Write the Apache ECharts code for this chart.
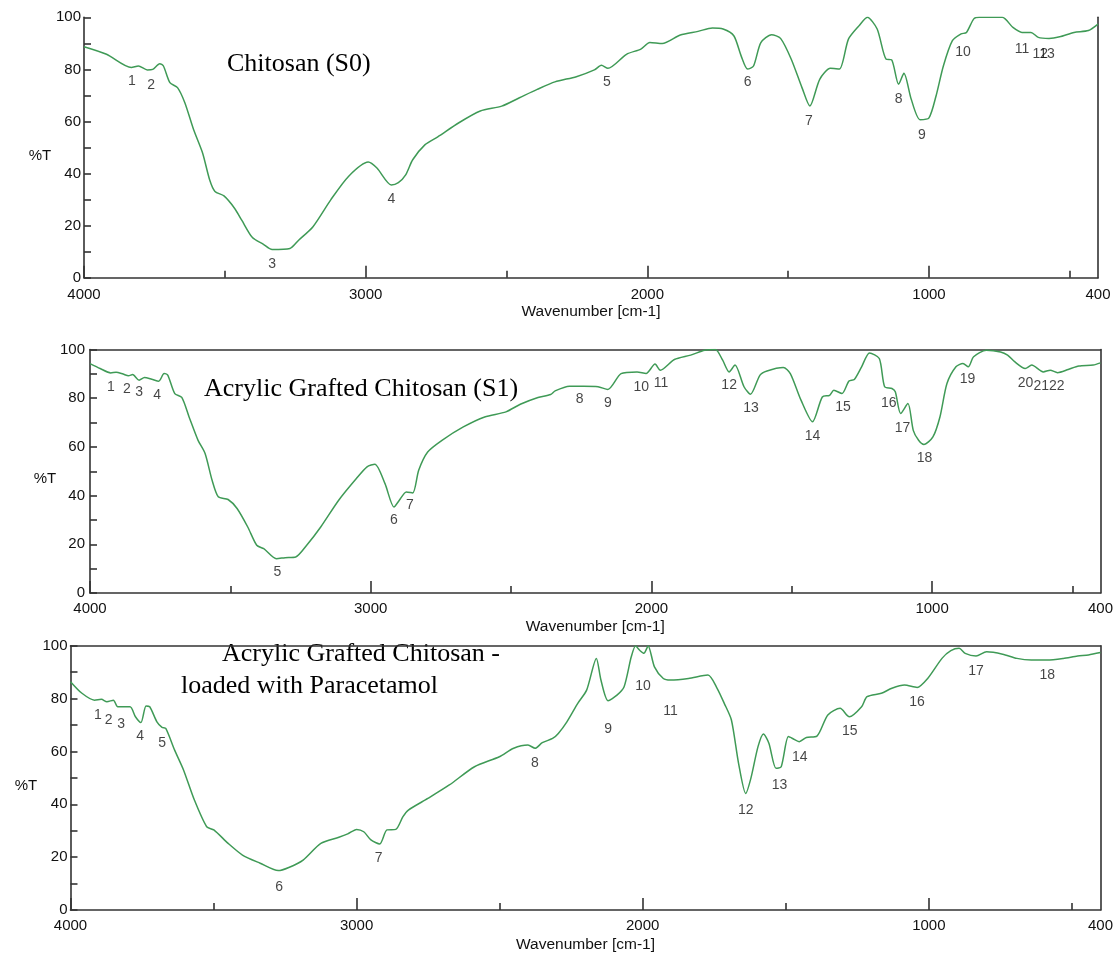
<!DOCTYPE html>
<html><head><meta charset="utf-8">
<script src="https://cdn.jsdelivr.net/npm/echarts@6/dist/echarts.min.js"></script>
<style>html,body{margin:0;padding:0;background:#fff}#c{width:1116px;height:955px}</style>
</head><body><div id="c"></div>
<script>
// [wavenumber cm-1, %T]
const spectrumS0 = [[4000,88.7],[3920,85.8],[3832,80.7],[3807,81.3],[3775,79.8],[3756,80],[3731,82.2],[3718,81.3],[3695,74.9],[3668,73],
[3642,67.2],[3611,56.9],[3579,47.9],[3554,37.6],[3535,33.1],[3503,31.4],[3465,26.6],[3440,22.1],[3402,15.4],[3364,12.9],
[3332,10.8],[3269,11.2],[3238,14.4],[3187,19.6],[3124,29.9],[3061,38.9],[2991,44.4],[2960,42.1],[2909,35.6],[2884,36.5],
[2858,39.5],[2833,45.3],[2789,51.1],[2744,54.1],[2669,59.5],[2593,64],[2517,65.9],[2454,69.1],[2391,72.3],[2328,75.2],
[2252,77.2],[2188,79.8],[2163,81.6],[2140,80.4],[2074,85.8],[2023,87.8],[1991,90.3],[1947,89.9],[1883,93.2],[1820,94.6],
[1769,95.9],[1731,95.5],[1693,92.9],[1667,85.2],[1644,80.1],[1623,81.3],[1597,90.3],[1559,93.3],[1527,91.9],[1489,83.9],
[1451,73],[1423,65.9],[1388,76.2],[1350,80.4],[1318,80.1],[1286,91.6],[1248,96.8],[1219,100],[1184,95.5],[1152,83.9],
[1133,83.7],[1108,74.3],[1089,78.5],[1063,68.5],[1032,60.7],[1000,61.4],[975,69.8],[949,81.3],[917,91],[886,93.6],
[867,94.2],[841,99.4],[822,100],[740,100],[702,96.1],[670,94.2],[638,94.2],[612,92.3],[574,91.9],[536,92.5],
[485,94.2],[434,94.9],[400,97.4]];

const spectrumS1 = [[4000,94.2],[3964,92.2],[3926,90.4],[3907,90.7],[3882,89.9],[3863,89.2],[3848,89.7],[3825,87.4],[3806,88.5],[3780,87.8],
[3755,87],[3736,90.1],[3723,89.5],[3698,81.9],[3673,80.3],[3647,72.3],[3615,62.7],[3590,57.3],[3565,46.3],[3543,39.5],
[3508,38.4],[3476,34.7],[3438,27.1],[3406,19.6],[3381,18.2],[3336,14.1],[3305,14.5],[3267,14.8],[3228,19.6],[3178,27.1],
[3114,38.1],[3051,47],[3013,51.8],[2985,52.9],[2949,44.9],[2917,35.3],[2898,38.1],[2873,41.5],[2850,41.1],[2829,50.4],
[2797,57.9],[2746,62.7],[2670,68.2],[2594,72.3],[2518,74.4],[2467,77.5],[2404,80.3],[2359,81.5],[2343,83],[2292,84.9],
[2241,84.9],[2190,84.7],[2155,83.6],[2108,90.1],[2051,90.8],[2019,90.1],[1987,94],[1968,91.5],[1918,95.9],[1860,97.7],
[1810,99.7],[1772,100],[1746,95.6],[1723,90.8],[1702,93.6],[1670,84.7],[1647,81.6],[1613,89.5],[1588,91.2],[1530,92.6],
[1505,90.1],[1467,79.2],[1426,70.3],[1391,80.5],[1365,81.2],[1350,83.3],[1321,81.9],[1296,87.1],[1277,87.7],[1251,92.9],
[1223,98.6],[1188,96.3],[1169,84.7],[1143,84],[1131,82.6],[1112,73.7],[1086,77.8],[1067,66.8],[1048,62.7],[1029,61],
[997,64.1],[972,72.3],[947,86],[915,92.9],[890,94.2],[871,92.9],[852,97],[807,99.7],[756,99],[731,97.7],
[706,95],[668,92.2],[645,93.6],[604,90.8],[579,91.5],[553,90.5],[515,91.8],[477,93.2],[426,93.6],[400,94.5]];

const spectrumS2 = [[4000,86.4],[3960,82],[3916,79.4],[3892,79.7],[3873,78.8],[3850,79.4],[3835,76.9],[3792,76.9],[3773,73.1],[3754,70.9],
[3736,77.2],[3723,76.9],[3698,71.2],[3680,69.1],[3667,68.7],[3636,60.5],[3605,53],[3567,41.6],[3524,31.5],[3499,30.3],
[3449,25.2],[3399,20.8],[3337,17.7],[3274,14.9],[3237,16.1],[3187,18.9],[3125,25.2],[3062,27.5],[3031,28.8],[3000,30.5],
[2975,29.6],[2950,26.5],[2919,25],[2894,30.3],[2863,30.5],[2838,35.3],[2819,37.8],[2751,42.2],[2676,47.3],[2588,54.2],
[2501,58],[2451,61.2],[2401,62.4],[2376,61.2],[2351,63.3],[2315,64.9],[2295,66.8],[2265,71.2],[2227,78.2],[2196,83.2],
[2162,95.2],[2146,87],[2121,79.2],[2090,81.3],[2065,84.5],[2040,95.8],[2025,99.9],[2009,98.1],[1996,97.1],[1981,99.9],
[1959,92],[1928,87.6],[1903,87],[1840,87.6],[1772,88.9],[1740,83.9],[1715,78.2],[1690,71.9],[1665,55.5],[1640,44.1],
[1622,49.8],[1597,61.8],[1578,66.6],[1559,63.1],[1534,53.6],[1516,54.2],[1491,65.6],[1476,64.9],[1453,63.7],[1428,65.3],
[1391,65.8],[1353,73.8],[1310,76.3],[1278,73.1],[1235,76.9],[1216,80.7],[1166,82],[1129,83.9],[1085,85.1],[1041,84.2],
[1004,87.6],[954,95.2],[923,98.1],[894,99],[873,97.1],[835,96.1],[798,97.7],[742,96.8],[692,95.2],[642,94.6],
[586,94.6],[530,95.2],[480,96.1],[442,96.5],[400,97.4]];

// peak number annotations: [wavenumber, %T where the number sits, label]
const peaksS0 = [[3830,75.5,'1'],[3762,73.9,'2'],[3332,5.1,'3'],[2909,30.2,'4'],[2144,75.2,'5'],[1644,75.2,'6'],[1426,60.1,'7'],
[1108,68.5,'8'],[1025,54.6,'9'],[879,86.5,'10'],[670,87.8,'11'],[605,85.8,'12'],[581,85.8,'13']];
const peaksS1 = [[3926,84.4,'1'],[3869,83.7,'2'],[3825,82.3,'3'],[3761,81.2,'4'],[3332,8.4,'5'],[2917,29.9,'6'],[2860,36,'7'],
[2256,79.5,'8'],[2155,78.1,'9'],[2036,84.4,'10'],[1966,86,'11'],[1723,85.3,'12'],[1645,75.8,'13'],[1426,64.4,'14'],
[1317,76.4,'15'],[1154,78.1,'16'],[1105,67.9,'17'],[1027,55.5,'18'],[874,87.7,'19'],[667,86.3,'20'],[611,84.9,'21'],[556,84.9,'22']];
const peaksS2 = [[3904,73.8,'1'],[3867,71.9,'2'],[3823,70.4,'3'],[3757,65.6,'4'],[3680,63.1,'5'],[3271,8.8,'6'],[2923,19.5,'7'],
[2377,55.5,'8'],[2121,68.5,'9'],[1999,84.6,'10'],[1903,75.4,'11'],[1640,37.8,'12'],[1522,47.3,'13'],[1451,57.8,'14'],
[1276,67.5,'15'],[1041,78.8,'16'],[835,90.2,'17'],[586,88.9,'18']];

const majorTickValues = [4000, 3000, 2000, 1000];
const minorTickValues = [3500, 2500, 1500, 500];
const xTickLabels = [4000, 3000, 2000, 1000, 400];
const xAxisTitle = 'Wavenumber [cm-1]';
const yAxisTitle = '%T';

const panels = [
  {grid:{left:84, top:17.3, width:1014, height:260.4}, box:false, data:spectrumS0, peaks:peaksS0, yMargin:3, xMargin:10, nameGap:26,
   yt:{x:40, y:156}, titles:[{x:227, y:64, t:'Chitosan (S0)'}]},
  {grid:{left:90, top:349.5, width:1012, height:243.5}, box:true, data:spectrumS1, peaks:peaksS1, yMargin:5, xMargin:8, nameGap:26,
   yt:{x:45, y:479}, titles:[{x:204, y:389, t:'Acrylic Grafted Chitosan (S1)'}]},
  {grid:{left:70.5, top:645.7, width:1033.5, height:264.3}, box:true, data:spectrumS2, peaks:peaksS2, yMargin:3, xMargin:8, nameGap:27,
   yt:{x:26, y:786}, titles:[{x:222, y:654, t:'Acrylic Grafted Chitosan -'},{x:181, y:686, t:'loaded with Paracetamol'}]}
];

const AX = '#333333', TXT = '#111111', GREEN = '#3f9a56';
const SANS = '"Liberation Sans", Arial, sans-serif';
const SERIF = '"Liberation Serif", "Times New Roman", serif';

const grid = [], xAxis = [], yAxis = [], series = [], graphic = [];
panels.forEach((p, i) => {
  grid.push(Object.assign({containLabel:false}, p.grid));
  const base = {gridIndex:i, type:'value', min:400, max:4000, inverse:true, splitLine:{show:false}};
  const mainIdx = xAxis.length;
  xAxis.push(Object.assign({}, base, {
    position:'bottom',
    axisLine:{show:true, lineStyle:{color:AX, width:1.6}},
    axisTick:{show:true, inside:true, length:12, customValues:majorTickValues, lineStyle:{color:AX, width:1.6}},
    axisLabel:{show:true, customValues:xTickLabels, margin:p.xMargin, fontSize:15, fontFamily:SANS, color:TXT,
      formatter: v => String(v)},
    name:xAxisTitle, nameLocation:'middle', nameGap:p.nameGap,
    nameTextStyle:{fontSize:15.5, fontFamily:SANS, color:TXT}
  }));
  xAxis.push(Object.assign({}, base, {
    position:'bottom',
    axisLine:{show:false},
    axisTick:{show:true, inside:true, length:7, customValues:minorTickValues, lineStyle:{color:AX, width:1.6}},
    axisLabel:{show:false}
  }));
  if (p.box) {
    xAxis.push(Object.assign({}, base, {
      position:'top', axisLine:{show:true, lineStyle:{color:AX, width:1.6}}, axisTick:{show:false}, axisLabel:{show:false}
    }));
  }
  const yIdx = yAxis.length;
  yAxis.push({gridIndex:i, type:'value', min:0, max:100, interval:10, position:'left', splitLine:{show:false},
    axisLine:{show:true, lineStyle:{color:AX, width:1.6}},
    axisTick:{show:true, inside:true, length:7, lineStyle:{color:AX, width:1.6}},
    axisLabel:{show:true, margin:p.yMargin, fontSize:15, fontFamily:SANS, color:TXT,
      formatter: v => (v % 20 === 0 ? String(v) : '')}
  });
  yAxis.push({gridIndex:i, type:'value', min:0, max:100, position:'right', splitLine:{show:false},
    axisLine:{show:true, lineStyle:{color:AX, width:1.6}}, axisTick:{show:false}, axisLabel:{show:false}});

  series.push({type:'line', xAxisIndex:mainIdx, yAxisIndex:yIdx, data:p.data, showSymbol:false, smooth:0.25,
    lineStyle:{color:GREEN, width:1.5}, silent:true, z:3});
  series.push({type:'scatter', xAxisIndex:mainIdx, yAxisIndex:yIdx, data:p.peaks, symbolSize:1,
    itemStyle:{color:'rgba(0,0,0,0)'}, silent:true, z:4,
    label:{show:true, position:'inside', formatter: q => q.value[2], fontSize:14, fontFamily:SANS, color:'#151515'}});

  graphic.push({type:'text', x:p.yt.x, y:p.yt.y, style:{text:yAxisTitle, font:'15px ' + SANS, fill:TXT,
    textAlign:'center', textVerticalAlign:'middle', align:'center', verticalAlign:'middle'}});
  p.titles.forEach(t => graphic.push({type:'text', x:t.x, y:t.y, style:{text:t.t, font:'26px ' + SERIF, fill:'#000',
    textAlign:'left', textVerticalAlign:'middle', align:'left', verticalAlign:'middle'}}));
});

const chart = echarts.init(document.getElementById('c'), null, {renderer:'canvas'});
chart.setOption({animation:false, backgroundColor:'#fff', grid, xAxis, yAxis, series, graphic});
</script></body></html>
